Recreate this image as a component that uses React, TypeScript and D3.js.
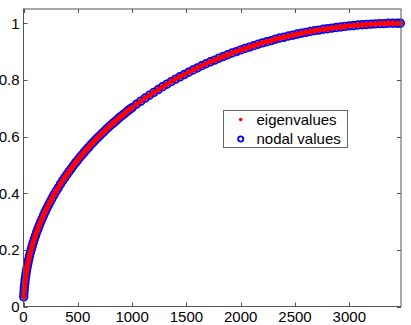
import React, { useEffect, useRef } from 'react';
import * as d3 from 'd3';

// index of eigenvalue (x) and normalised value (y)
const xValues = [
    2, 4, 6, 8, 12, 15, 20, 24, 29, 35, 41, 48, 55, 63, 72, 80, 90, 100, 110, 121,
    133, 145, 158, 171, 185, 199, 214, 230, 246, 263,
    280, 300, 320, 340, 360, 380, 400, 420, 440, 460, 480, 500, 520, 540, 560, 580, 600, 620,
    640, 660, 680, 700, 720, 740, 760, 780, 800, 820, 840, 860, 880, 900, 920, 940, 960, 980, 1000,
    1040, 1080, 1120, 1160, 1200, 1240, 1280, 1320, 1360, 1400, 1440,
    1480, 1520, 1560, 1600, 1640, 1680, 1720, 1760, 1800, 1840, 1880, 1920, 1960, 2000, 2040,
    2080, 2120, 2160, 2200, 2240, 2280, 2320, 2360, 2400, 2440, 2480, 2520, 2560, 2600, 2640,
    2680, 2720, 2760, 2800, 2840, 2880, 2920, 2960, 3000, 3040, 3080, 3120, 3160, 3200, 3240,
    3280, 3320, 3360, 3400, 3440, 3470,
];
const eigenValues = [
    0.034, 0.046, 0.058, 0.070, 0.082, 0.094, 0.106, 0.118, 0.130, 0.142, 0.154, 0.166, 0.178, 0.190, 0.202,
    0.214, 0.226, 0.238, 0.250, 0.262, 0.274, 0.286, 0.298, 0.310, 0.322, 0.334, 0.346, 0.358, 0.370, 0.382,
    0.394, 0.407, 0.419, 0.432, 0.444, 0.455, 0.466, 0.477, 0.487, 0.498, 0.508, 0.517, 0.527, 0.536, 0.545,
    0.554, 0.562, 0.571, 0.579, 0.587, 0.595, 0.602, 0.610, 0.617, 0.625, 0.632, 0.639, 0.646, 0.652, 0.659,
    0.666, 0.672, 0.678, 0.684, 0.691, 0.697, 0.702,
    0.714, 0.725, 0.736, 0.746, 0.756, 0.766, 0.776, 0.785, 0.794, 0.803, 0.811,
    0.819, 0.827, 0.835, 0.842, 0.850, 0.857, 0.864, 0.870, 0.877, 0.883, 0.889, 0.895, 0.900, 0.906, 0.911,
    0.916, 0.921, 0.926, 0.931, 0.935, 0.939, 0.944, 0.948, 0.951, 0.955, 0.958, 0.962, 0.965, 0.968, 0.971,
    0.974, 0.976, 0.979, 0.981, 0.983, 0.985, 0.987, 0.989, 0.991, 0.992, 0.994, 0.995, 0.996, 0.997, 0.998,
    0.999, 0.999, 1.000, 1.000, 1.000, 1.000,
];
// nodal values lie on top of the eigenvalues
const nodalValues = eigenValues.slice();

const xTicks = [0, 500, 1000, 1500, 2000, 2500, 3000];
const yTicks = [0, 0.2, 0.4, 0.6, 0.8, 1];
const legendLabels = ['eigenvalues', 'nodal values'];

const W = 411;
const H = 325;

const App = () => {
    const svgRef = useRef(null);

    useEffect(() => {
        const svg = d3.select(svgRef.current);
        svg.selectAll('*').remove();

        const left = 23.5, right = 401, top = 9, bottom = 306.5;
        const font = '"Liberation Sans", Arial, Helvetica, sans-serif';

        const x = d3.scaleLinear().domain([0, 3476]).range([left, right]);
        const y = d3.scaleLinear().domain([0, 1]).range([bottom, 23.3]);

        const pts = xValues.map((v, i) => ({ x: v, e: eigenValues[i], n: nodalValues[i] }));

        // nodal values: blue open circles
        svg.append('g')
            .selectAll('circle')
            .data(pts)
            .enter()
            .append('circle')
            .attr('cx', d => x(d.x))
            .attr('cy', d => y(d.n))
            .attr('r', 3.8)
            .attr('fill', 'none')
            .attr('stroke', '#0000ff')
            .attr('stroke-width', 1.8);

        // eigenvalues: red dots, on top
        svg.append('g')
            .selectAll('circle')
            .data(pts)
            .enter()
            .append('circle')
            .attr('cx', d => x(d.x))
            .attr('cy', d => y(d.e))
            .attr('r', 2.8)
            .attr('fill', '#ff0000');

        // axes box
        svg.append('rect')
            .attr('x', left)
            .attr('y', top)
            .attr('width', right - left)
            .attr('height', bottom - top)
            .attr('fill', 'none')
            .attr('stroke', '#555')
            .attr('stroke-width', 1);

        const tickLen = 4;
        const ticks = svg.append('g').attr('stroke', '#555').attr('stroke-width', 1);
        xTicks.forEach(t => {
            const px = Math.round(x(t)) + 0.5;
            ticks.append('line').attr('x1', px).attr('x2', px).attr('y1', bottom).attr('y2', bottom - tickLen);
            ticks.append('line').attr('x1', px).attr('x2', px).attr('y1', top).attr('y2', top + tickLen);
        });
        yTicks.forEach(t => {
            const py = Math.round(y(t)) + 0.5;
            ticks.append('line').attr('x1', left).attr('x2', left + tickLen).attr('y1', py).attr('y2', py);
            ticks.append('line').attr('x1', right).attr('x2', right - tickLen).attr('y1', py).attr('y2', py);
        });

        // tick labels
        svg.append('g')
            .selectAll('text')
            .data(xTicks)
            .enter()
            .append('text')
            .attr('x', d => x(d))
            .attr('y', 322)
            .attr('text-anchor', 'middle')
            .style('font-family', font)
            .style('font-size', '15px')
            .style('fill', '#000')
            .text(d => d);

        svg.append('g')
            .selectAll('text')
            .data(yTicks)
            .enter()
            .append('text')
            .attr('x', 19.5)
            .attr('y', d => y(d))
            .attr('dy', '0.36em')
            .attr('text-anchor', 'end')
            .style('font-family', font)
            .style('font-size', '15px')
            .style('fill', '#000')
            .text(d => d);

        // legend
        const lg = svg.append('g');
        lg.append('rect')
            .attr('x', 223.5)
            .attr('y', 110.5)
            .attr('width', 124)
            .attr('height', 37)
            .attr('fill', '#fff')
            .attr('stroke', '#666')
            .attr('stroke-width', 1);
        lg.append('circle').attr('cx', 240.7).attr('cy', 119.5).attr('r', 1.8).attr('fill', '#ff0000');
        lg.append('circle').attr('cx', 240.7).attr('cy', 139).attr('r', 2.6)
            .attr('fill', 'none').attr('stroke', '#0000ff').attr('stroke-width', 1.8);
        lg.selectAll('text')
            .data(legendLabels)
            .enter()
            .append('text')
            .attr('x', 256.5)
            .attr('y', (d, i) => 119.5 + i * 19.5)
            .attr('dy', '0.36em')
            .style('font-family', font)
            .style('font-size', '15px')
            .style('fill', '#000')
            .text(d => d);
    }, []);

    return (
        <svg
            ref={svgRef}
            width={W}
            height={H}
            style={{ position: 'absolute', left: 0, top: 0, background: '#fff' }}
        ></svg>
    );
};

export default App;
